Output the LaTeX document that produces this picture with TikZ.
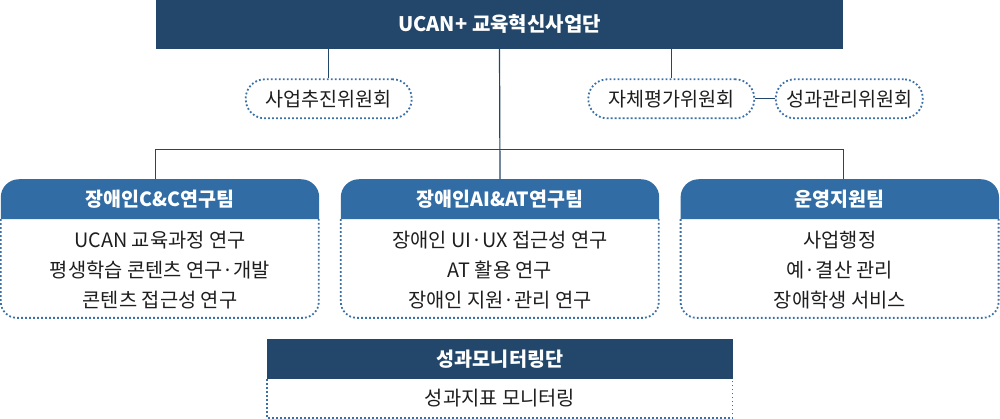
\documentclass[tikz,border=0pt]{standalone}
\usepackage{fontspec}
\setmainfont{Noto Sans CJK KR}
\usepackage{xcolor}
\definecolor{navy}{HTML}{23476A}
\definecolor{teamblue}{HTML}{316DA4}
\definecolor{dotblue}{HTML}{3A70A8}
\definecolor{textdark}{HTML}{1E1E1E}
\usetikzlibrary{positioning,calc,backgrounds}

\begin{document}
\begin{tikzpicture}[x=1pt, y=-1pt,
    headbox/.style={fill=navy, text=white, font=\fontsize{20}{22}\selectfont\bfseries, inner sep=0pt},
    committee/.style={draw=dotblue, line width=1.8pt, dash pattern=on 1.8pt off 2.2pt, rounded corners=19pt, fill=white, text=textdark, minimum height=39pt, inner sep=0pt, font=\fontsize{19.6}{22}\selectfont},
    teamhead/.style={text=white, minimum width=318pt, minimum height=39.5pt, inner sep=0pt, font=\fontsize{19.5}{22}\selectfont\bfseries},
    teambody/.style={text=textdark, align=center, font=\fontsize{19.8}{30}\selectfont, inner sep=0pt},
    dots/.style={draw=dotblue, line width=1.8pt, dash pattern=on 1.8pt off 2.2pt},
    link/.style={draw=navy, line width=1.2pt}
  ]
    \useasboundingbox (0,0) rectangle (1000,419);

    \node[headbox, minimum width=687.6pt, minimum height=48.7pt] (unit) at (499.5,24.35) {UCAN+ 교육혁신사업단};

    \node[committee, minimum width=166pt] (promo) at (328.7,98.8) {사업추진위원회};
    \node[committee, minimum width=166pt] (eval) at (671.3,98.8) {자체평가위원회};
    \node[committee, minimum width=147pt] (perf) at (849.2,98.8) {성과관리위원회};

    \node[teamhead] (cc) at (160,199.2) {장애인C\&C연구팀};
    \node[teambody] (ccbody) at (160,270) {UCAN 교육과정 연구\\평생학습 콘텐츠 연구·개발\\콘텐츠 접근성 연구};

    \node[teamhead] (ai) at (500,199.2) {장애인AI\&AT연구팀};
    \node[teambody] (aibody) at (500,270) {장애인 UI·UX 접근성 연구\\AT 활용 연구\\장애인 지원·관리 연구};

    \node[teamhead] (ops) at (839.8,199.2) {운영지원팀};
    \node[teambody] (opsbody) at (839.8,270) {사업행정\\예·결산 관리\\장애학생 서비스};

    \begin{scope}[on background layer]
      \foreach \t in {cc,ai,ops} {
        \fill[teamblue, rounded corners=18pt] (\t.south west) -- (\t.north west) -- (\t.north east) -- (\t.south east);
        \draw[dots, rounded corners=16pt] (\t.south west) -- ++(0,98.7) -- ++(318,0) -- ++(0,-98.7);
      }
    \end{scope}

    \node[headbox, minimum width=465.4pt, minimum height=39.4pt, font=\fontsize{19.6}{22}\selectfont\bfseries] (mon) at (500,359) {성과모니터링단};
    \node[teambody] (monbody) at (500,398.2) {성과지표 모니터링};
    \draw[dots] (mon.south west) -- ++(0,39) -- ++(465.4,0) -- ++(0,-39);

    \draw[link] (unit.south -| promo.north) -- (promo.north);
    \draw[link] (unit.south -| eval.north) -- (eval.north);
    \draw[link] (eval.east) -- (perf.west);
    \draw[link] (unit.south) -- (ai.north);
    \coordinate (bus) at (499.5,149.5);
    \draw[link] (cc.north -| unit.west) |- (bus) -| (ops.north -| unit.east);
  \end{tikzpicture}
\end{document}
